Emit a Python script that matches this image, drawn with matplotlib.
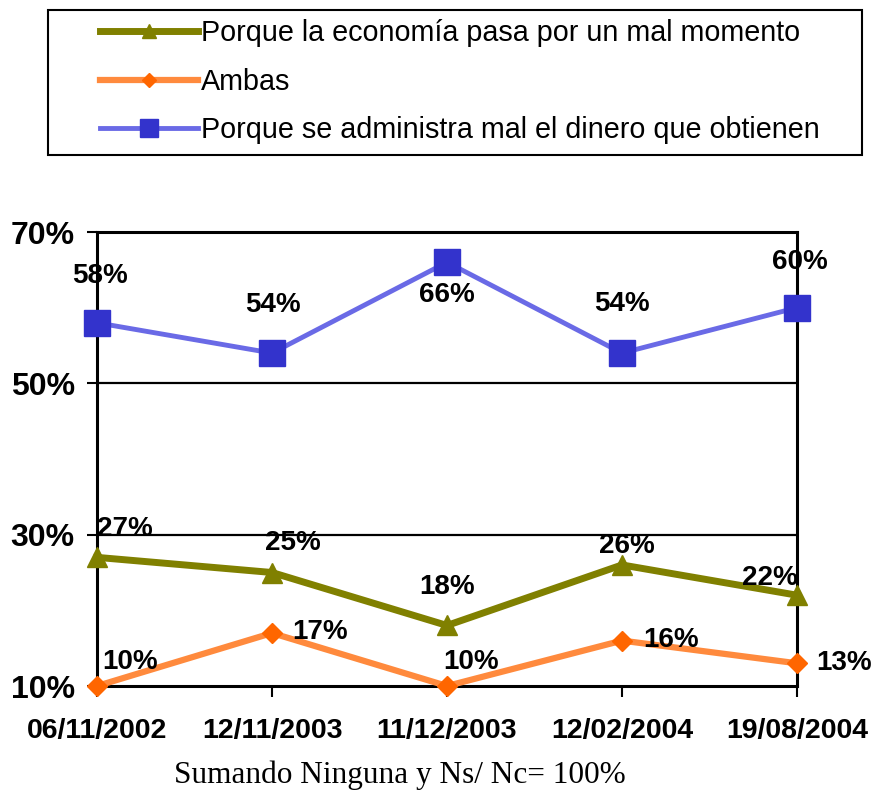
import matplotlib
matplotlib.use("Agg")
import matplotlib.pyplot as plt
from matplotlib.patches import Rectangle

# ---- data ----
dates = ["06/11/2002", "12/11/2003", "11/12/2003", "12/02/2004", "19/08/2004"]
economia = [27, 25, 18, 26, 22]
ambas = [10, 17, 10, 16, 13]
administra = [58, 54, 66, 54, 60]
series_names = ["Porque la economía pasa por un mal momento",
                "Ambas",
                "Porque se administra mal el dinero que obtienen"]
y_ticks = [10, 30, 50, 70]
y_tick_labels = ["10%", "30%", "50%", "70%"]
footnote = "Sumando Ninguna y Ns/ Nc= 100%"

# label offsets (pixels) for each point
off_adm = [(3, 47), (1, 48), (0, -33), (0, 49), (3, 46)]
off_eco = [(28, 28), (21, 29), (0, 38), (5, 19), (-27, 17)]
off_amb = [(33, 24), (48, 1), (24, 24), (49, 1), (47, 0)]

plt.rcParams['font.family'] = ['Liberation Sans', 'DejaVu Sans']

fig = plt.figure(figsize=(8.77, 7.92), dpi=100)
ax = fig.add_axes([97/877, 1-686/792, 700/877, 454/792])

x = list(range(len(dates)))
l_eco, = ax.plot(x, economia, color="#808000", lw=5, marker="^", ms=14,
                 mfc="#808000", mec="#808000", zorder=4, clip_on=False,
                 label=series_names[0])
l_amb, = ax.plot(x, ambas, color="#FF8A3D", lw=4.5, marker="D", ms=10,
                 mfc="#FF6600", mec="#FF6600", zorder=4, clip_on=False,
                 label=series_names[1])
l_adm, = ax.plot(x, administra, color="#6A6AE6", lw=3.5, marker="s", ms=19,
                 mfc="#3333CC", mec="#3333CC", zorder=4, clip_on=False,
                 label=series_names[2])

for vals, offs in ((administra, off_adm), (economia, off_eco), (ambas, off_amb)):
    for xi, v, (dx, dy) in zip(x, vals, offs):
        ax.annotate(f"{v}%", (xi, v), xytext=(dx, dy), textcoords="offset pixels",
                    ha="center", va="center", fontsize=20, fontweight="bold",
                    zorder=6)

ax.set_xlim(0, len(dates) - 1)
ax.set_ylim(10, 70)
ax.set_yticks(y_ticks)
ax.set_yticklabels(y_tick_labels, fontsize=23, fontweight="bold")
ax.set_xticks(x)
ax.set_xticklabels(dates, fontsize=20.5, fontweight="bold")
ax.tick_params(axis="y", length=7, width=1.5, pad=9, direction="out")
ax.tick_params(axis="x", length=8, width=1.5, pad=15, direction="out")

for yv in y_ticks[1:]:
    ax.axhline(yv, color="black", lw=1.6, zorder=1)
for s in ax.spines.values():
    s.set_linewidth(2.2)
    s.set_color("black")

# legend
leg = fig.legend(handles=[l_eco, l_amb, l_adm], loc="upper left",
                 bbox_to_anchor=(100/877, 1-19/792), frameon=False,
                 fontsize=20.7, handlelength=3.4, handletextpad=0.1,
                 labelspacing=0.72, borderpad=0, borderaxespad=0,
                 markerscale=0.7)
fig.add_artist(Rectangle((48/877, 1-155/792), 814/877, 145/792,
                         transform=fig.transFigure, fill=False,
                         edgecolor="black", lw=1.5))

fig.text(400/877, 1-775/792, footnote, ha="center", va="center",
         fontsize=22.5, family=["Liberation Serif", "DejaVu Serif"])

fig.savefig("out.png", dpi=100)
